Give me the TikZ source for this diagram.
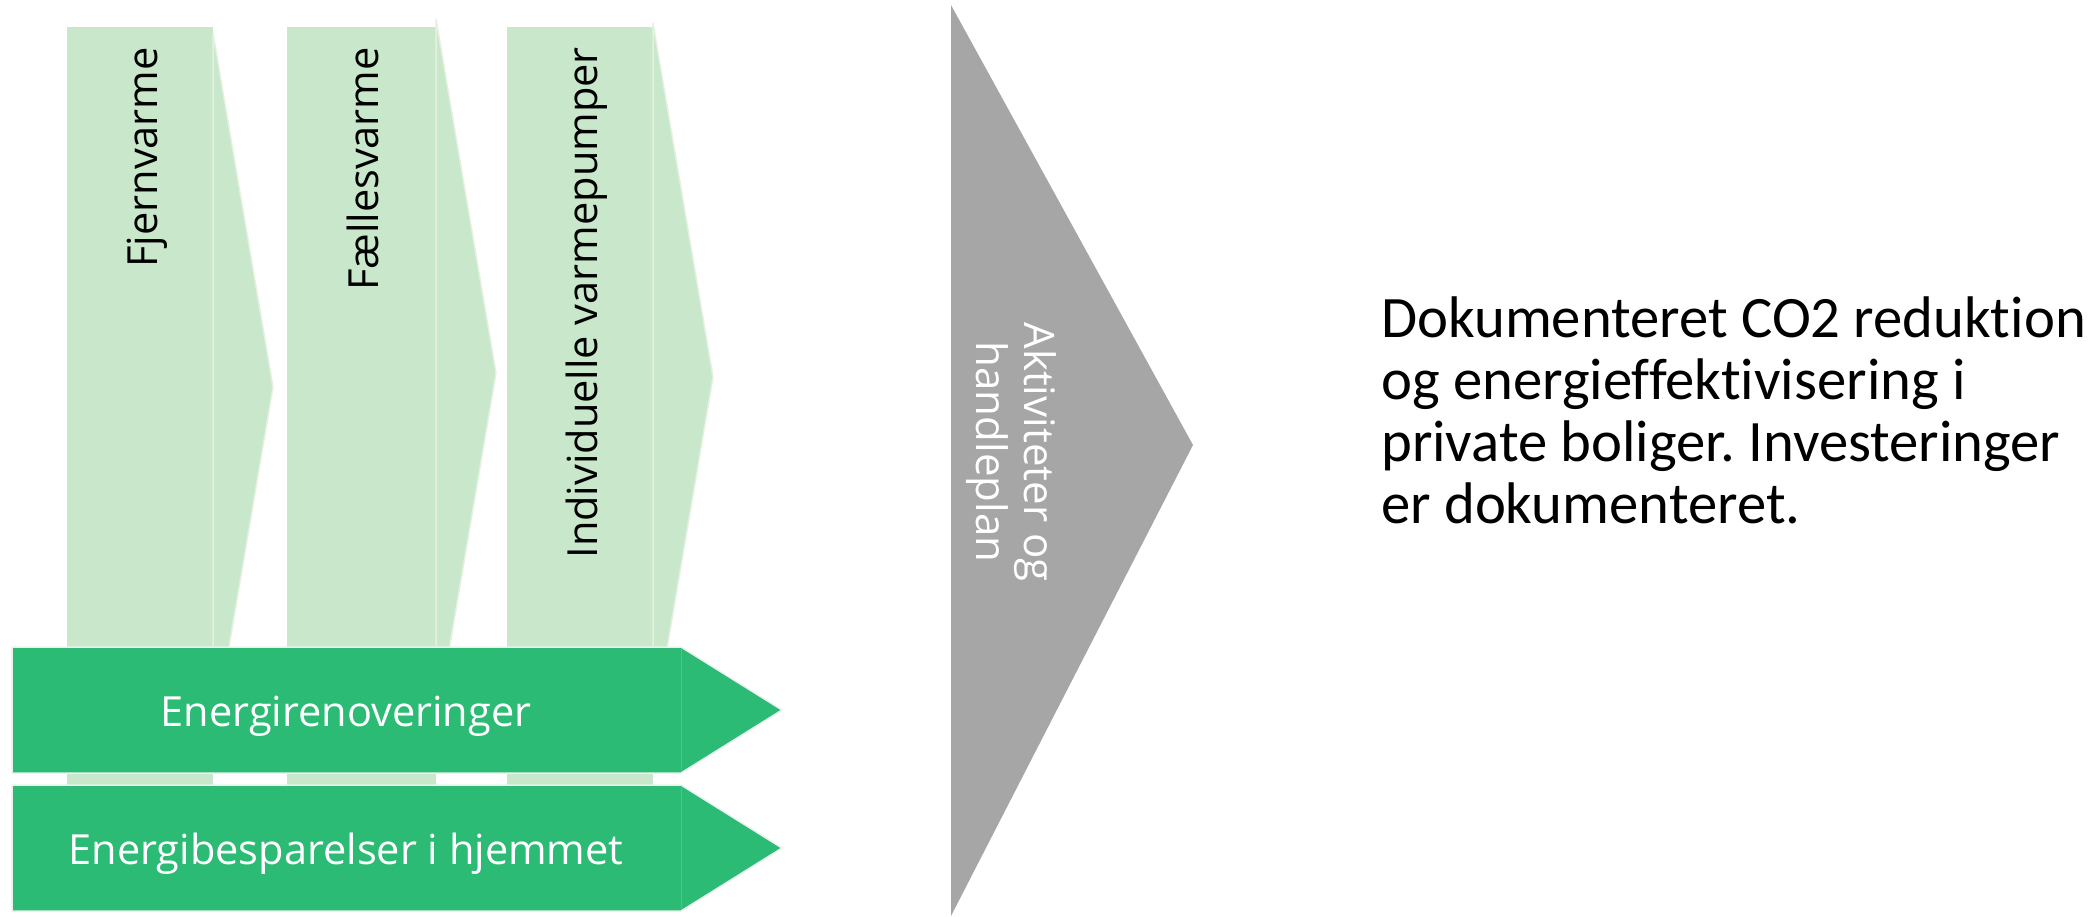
\documentclass[tikz,border=0pt]{standalone}
\usepackage{fontspec}
\setmainfont{Carlito}[Ligatures=NoCommon]
\newfontfamily\artfont{Open Sans}
\frenchspacing
\definecolor{colfill}{RGB}{201,231,203}
\definecolor{colline}{RGB}{228,241,222}
\definecolor{barfill}{RGB}{43,187,116}
\definecolor{barline}{RGB}{236,240,238}
\definecolor{planfill}{RGB}{166,166,166}

\tikzset{
	column/.style={fill=colfill, draw=none},
	columntip/.style={fill=colfill, draw=colline, line width=1.5pt, line join=round},
	columntext/.style={font=\artfont\fontsize{41.5}{49}\selectfont, text=black, inner sep=0pt, anchor=base east, rotate=90},
	bar/.style={fill=barfill, draw=barline, line width=1.5pt},
	bartext/.style={font=\artfont\fontsize{41.5}{47}\selectfont, text=white, inner sep=0pt, anchor=base},
	plantext/.style={font=\artfont\fontsize{42}{48}\selectfont, text=white, inner sep=0pt, align=center, rotate=-90},
	resulttext/.style={font=\fontsize{58.7}{62}\selectfont, inner sep=0pt, align=left, anchor=base west}
}

\begin{document}
\begin{tikzpicture}[x=1pt, y=-1pt]
	\useasboundingbox (0, 0) rectangle (2098, 916);
	\foreach \lft/\rgt/\ty/\name/\txt in {67/213/387/fjern/Fjernvarme, 287/436/373/faelles/Fællesvarme, 507/653/377/indiv/Individuelle varmepumper} {
		\fill[column] (\lft, 27) rectangle (\rgt, 785);
		\draw[columntip] (\rgt, \ty-354) -- (\rgt+60, \ty) -- (\rgt, \ty+354) -- cycle;
		\node[columntext] (\name) at ({(\lft+\rgt)/2+17}, 47) {\txt};
	}
	\foreach \ytop/\name/\txt in {647/renov/Energirenoveringer, 785/spar/Energibesparelser i hjemmet} {
		\draw[bar] (12, \ytop) -- (681, \ytop) -- (782, \ytop+63) -- (681, \ytop+126) -- (12, \ytop+126) -- cycle;
		\draw[barfill!85!white, line width=0.6pt] (681, \ytop+1) -- (681, \ytop+125);
		\node[bartext] (\name) at (346, \ytop+79) {\txt};
	}
	\fill[planfill] (951, 5) -- (1193, 445) -- (951, 916) -- cycle;
	\node[plantext] (plan) at (1011, 452) {Aktiviteter og\\handleplan};
	\node[resulttext] (result) at (1381, 523) {Dokumenteret CO2 reduktion\\og energieffektivisering i\\private boliger. Investeringer\\er dokumenteret.};
\end{tikzpicture}
\end{document}
